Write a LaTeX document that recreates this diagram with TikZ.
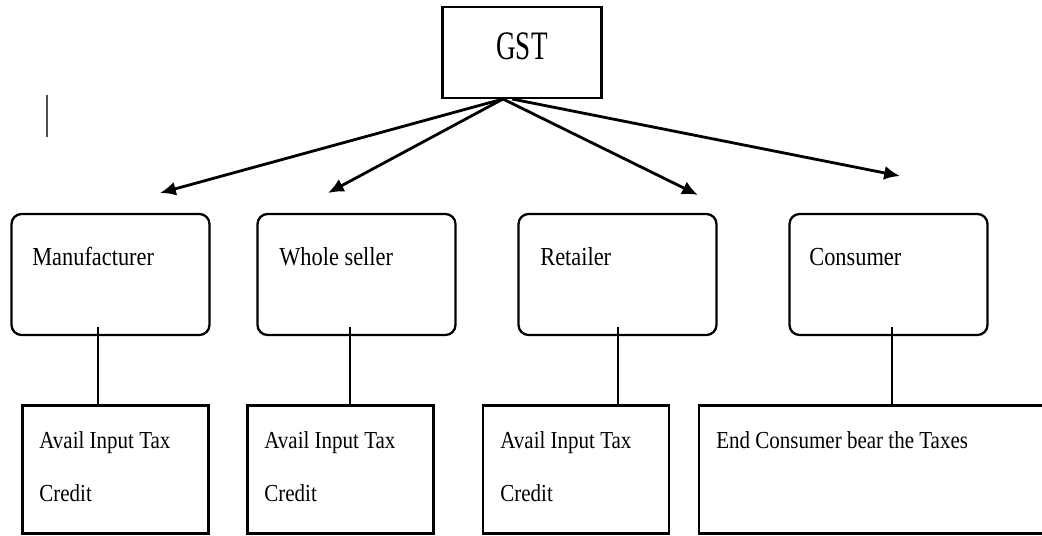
\documentclass[tikz,border=0pt]{standalone}
\usepackage{fontspec}
\setmainfont[FakeStretch=0.86]{Liberation Serif}
\newfontfamily\headfont[FakeStretch=0.67]{Liberation Serif}
\usetikzlibrary{arrows.meta,positioning,calc}
\begin{document}
\begin{tikzpicture}[x=0.02cm,y=-0.02cm,
  headbox/.style={draw,line width=1.3pt,minimum width=3.18cm,
    minimum height=1.82cm,inner sep=0pt,text depth=7pt,
    font=\headfont\fontsize{23}{24}\selectfont},
  partybox/.style={draw,line width=1.3pt,rounded corners=0.2cm,
    minimum width=3.96cm,minimum height=2.42cm,inner sep=0pt},
  taxbox/.style={draw,line width=1.3pt,minimum width=3.72cm,
    minimum height=2.56cm,inner sep=0pt},
  partylbl/.style={anchor=base west,inner sep=0pt,
    font=\fontsize{14.8}{17}\selectfont},
  taxlbl/.style={anchor=north west,inner sep=0pt,align=left,
    font=\fontsize{13.9}{30}\selectfont},
  spoke/.style={-{Latex[length=9pt,width=8pt]},line width=1.6pt},
  link/.style={line width=0.8pt}]
  \clip (0,0) rectangle (1042,536);
  \node[headbox](GST) at (522,52.5) {GST};
  % second row
  \node[partybox](Mfg) at (110.5,274.5) {};
  \node[partybox](Whs) at (356.5,274.5) {};
  \node[partybox](Ret) at (617.5,274.5) {};
  \node[partybox](Con) at (888.5,274.5) {};
  \node[partylbl](MfgText) at (32,266) {Manufacturer};
  \node[partylbl](WhsText) at (279,266) {Whole seller};
  \node[partylbl](RetText) at (540,266) {Retailer};
  \node[partylbl](ConText) at (809,266) {Consumer};
  % third row
  \node[taxbox](MfgTax) at (115.5,469.5) {};
  \node[taxbox](WhsTax) at (340.5,469.5) {};
  \node[taxbox](RetTax) at (576,469.5) {};
  \node[taxbox,minimum width=7.3cm](ConTax) at (881.5,469.5) {};
  \node[taxlbl](MfgTaxText) at (39,431.5) {Avail Input Tax\\Credit};
  \node[taxlbl](WhsTaxText) at (264,431.5) {Avail Input Tax\\Credit};
  \node[taxlbl](RetTaxText) at (500,431.5) {Avail Input Tax\\Credit};
  \node[taxlbl](ConTaxText) at (716,431.5) {End Consumer bear the Taxes};
  % arrows
  \coordinate (hub) at (503,99);
  \coordinate (hubR) at (512,99);
  \coordinate (toMfg) at (160,193);
  \coordinate (toWhs) at (328,193);
  \coordinate (toRet) at (698,195);
  \coordinate (toCon) at (900,176);
  \draw[spoke](hub)--(toMfg);
  \draw[spoke](hub)--(toWhs);
  \draw[spoke](hub)--(toRet);
  \draw[spoke](hubR)--(toCon);
  \draw[link]($(Mfg.south)+(-12.5,-9)$) coordinate(m1)--(m1|-MfgTax.north);
  \draw[link]($(Whs.south)+(-6.5,-9)$) coordinate(m2)--(m2|-WhsTax.north);
  \draw[link]($(Ret.south)+(0.5,-9)$) coordinate(m3)--(m3|-RetTax.north);
  \draw[link]($(Con.south)+(3.5,-9)$) coordinate(m4)--(m4|-ConTax.north);
  % cursor mark
  \draw[line width=0.6pt,black!70](47,95)--(47,137);
\end{tikzpicture}
\end{document}
